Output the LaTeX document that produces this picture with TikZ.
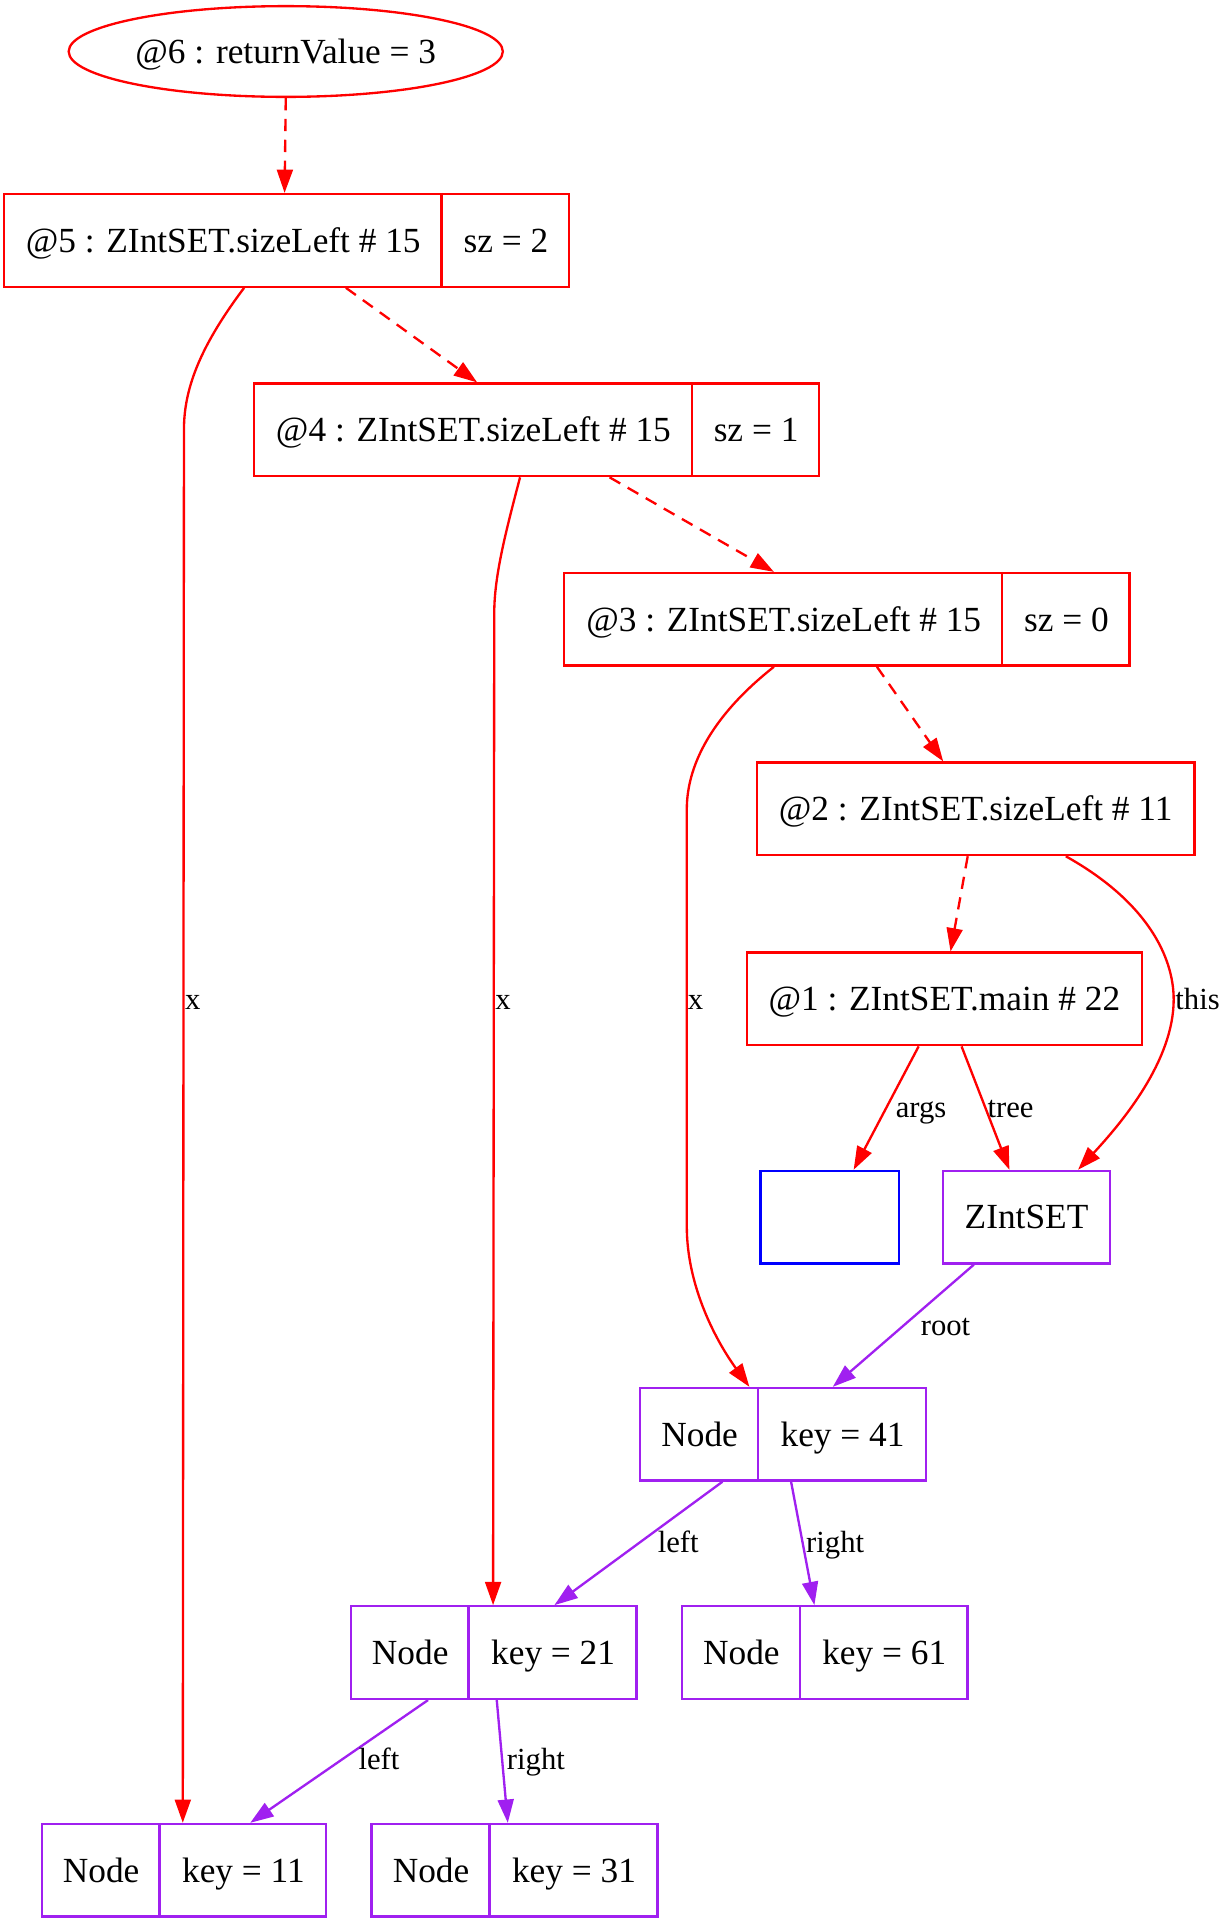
\documentclass[tikz,border=0pt]{standalone}
\usepackage{fontspec}
\setmainfont{Liberation Serif}
\usetikzlibrary{shapes.geometric,arrows.meta,calc}
\definecolor{gvred}{RGB}{255,0,0}
\definecolor{gvpurple}{RGB}{160,32,240}
\definecolor{gvblue}{RGB}{0,0,255}
\tikzset{
  frame/.style={draw, line width=0.95pt, inner sep=0pt, minimum height=37.75pt},
  redbox/.style={frame, draw=gvred},
  purbox/.style={frame, draw=gvpurple},
  bluebox/.style={frame, draw=gvblue},
  divider/.style={line width=0.95pt},
  txt/.style={inner sep=0pt, yshift=-2.5pt, text height=0.68em, text depth=0.22em, font=\fontsize{14.4}{16}\selectfont},
  elabel/.style={inner sep=0pt, yshift=-1.8pt, text height=0.68em, text depth=0.22em, font=\fontsize{12.5}{14}\selectfont},
  conn/.style={line width=0.95pt, -{Triangle[length=9.5pt,width=6.5pt]}},
  redconn/.style={conn, draw=gvred},
  callconn/.style={redconn, dash pattern=on 5pt off 3.5pt},
  purconn/.style={conn, draw=gvpurple},
}
\begin{document}
\begin{tikzpicture}[x=0.5pt,y=-0.5pt]
\useasboundingbox (0,0) rectangle (998.8,1568);
% ellipse
\node[ellipse, draw=gvred, line width=0.95pt, minimum width=177pt, minimum height=37pt, inner sep=0pt] (n6) at (233,42) {};
\node[txt] (t6) at (233,42) {@6 : returnValue = 3};
% @5
\node[redbox, minimum width=230.5pt] (n5) at (233.5,196) {};
\draw[gvred, divider] ($(n5.north west)+(358,0)$) -- ($(n5.south west)+(358,0)$);
\node[txt] (t5a) at (182,196) {@5 : ZIntSET.sizeLeft \# 15};
\node[txt] (t5b) at (412.5,196) {sz = 2};
% @4
\node[redbox, minimum width=230.5pt] (n4) at (437.5,350.5) {};
\draw[gvred, divider] ($(n4.north west)+(358,0)$) -- ($(n4.south west)+(358,0)$);
\node[txt] (t4a) at (386,350.5) {@4 : ZIntSET.sizeLeft \# 15};
\node[txt] (t4b) at (616.5,350.5) {sz = 1};
% @3
\node[redbox, minimum width=230.5pt] (n3) at (690.5,505) {};
\draw[gvred, divider] ($(n3.north west)+(358,0)$) -- ($(n3.south west)+(358,0)$);
\node[txt] (t3a) at (639,505) {@3 : ZIntSET.sizeLeft \# 15};
\node[txt] (t3b) at (869.5,505) {sz = 0};
% @2
\node[redbox, minimum width=178.5pt] (n2) at (795.5,659.5) {};
\node[txt] (t2) at (795.5,659.5) {@2 : ZIntSET.sizeLeft \# 11};
% @1
\node[redbox, minimum width=161pt] (n1) at (770,814.5) {};
\node[txt] (t1) at (770,814.5) {@1 : ZIntSET.main \# 22};
% empty and ZIntSET
\node[bluebox, minimum width=56.5pt] (ne) at (676.5,992.5) {};
\node[purbox, minimum width=68pt] (ns) at (837,992.5) {};
\node[txt] (ts) at (837,992.5) {ZIntSET};
% Node 41
\node[purbox, minimum width=116.5pt] (n41) at (638.5,1169.5) {};
\draw[gvpurple, divider] ($(n41.north west)+(97,0)$) -- ($(n41.south west)+(97,0)$);
\node[txt] (t41a) at (570.5,1169.5) {Node};
\node[txt] (t41b) at (687,1169.5) {key = 41};
% Node 21
\node[purbox, minimum width=116.5pt] (n21) at (402.5,1347.5) {};
\draw[gvpurple, divider] ($(n21.north west)+(97,0)$) -- ($(n21.south west)+(97,0)$);
\node[txt] (t21a) at (334.5,1347.5) {Node};
\node[txt] (t21b) at (451,1347.5) {key = 21};
% Node 61
\node[purbox, minimum width=116.5pt] (n61) at (672.5,1347.5) {};
\draw[gvpurple, divider] ($(n61.north west)+(97,0)$) -- ($(n61.south west)+(97,0)$);
\node[txt] (t61a) at (604.5,1347.5) {Node};
\node[txt] (t61b) at (721,1347.5) {key = 61};
% Node 11
\node[purbox, minimum width=116pt] (n11) at (150,1525) {};
\draw[gvpurple, divider] ($(n11.north west)+(97,0)$) -- ($(n11.south west)+(97,0)$);
\node[txt] (t11a) at (82.5,1525) {Node};
\node[txt] (t11b) at (198.5,1525) {key = 11};
% Node 31
\node[purbox, minimum width=116.5pt] (n31) at (419.5,1525) {};
\draw[gvpurple, divider] ($(n31.north west)+(97,0)$) -- ($(n31.south west)+(97,0)$);
\node[txt] (t31a) at (351.5,1525) {Node};
\node[txt] (t31b) at (468,1525) {key = 31};

% call chain (dashed)
\draw[callconn] (n6.south) -- ($(n5.north west)+(230,0)$);
\draw[callconn] ($(n5.south west)+(280,0)$) -- ($(n4.north west)+(183,0)$);
\draw[callconn] ($(n4.south west)+(291,0)$) -- ($(n3.north west)+(172,0)$);
\draw[callconn] ($(n3.south west)+(256,0)$) -- ($(n2.north west)+(153,0)$);
\draw[callconn] ($(n2.south west)+(173,0)$) -- ($(n1.north west)+(167,0)$);

% x edges
\draw[redconn] ($(n5.south west)+(197,0)$) .. controls (165,280) and (150,315) .. (150,350) -- ($(n11.north west)+(116,0)$);
\node[elabel, anchor=west] (lx5) at (150.5,815) {x};
\draw[redconn] ($(n4.south west)+(218,0)$) .. controls (412,435) and (403,470) .. (403,500) -- ($(n21.north west)+(117,0)$);
\node[elabel, anchor=west] (lx4) at (403.5,815) {x};
\draw[redconn] ($(n3.south west)+(172,0)$) .. controls (585,580) and (560,620) .. (560,660) -- (560,1000) .. controls (560,1050) and (585,1095) .. ($(n41.north west)+(90,0)$);
\node[elabel, anchor=west] (lx3) at (560.5,815) {x};

% this
\draw[redconn] ($(n2.south west)+(253,0)$) .. controls (935,735) and (957,780) .. (957,815) .. controls (957,865) and (915,915) .. ($(ns.north west)+(111,0)$);
\node[elabel, anchor=west] (lthis) at (958,815) {this};

% args, tree
\draw[redconn] ($(n1.south west)+(141,0)$) -- ($(ne.north west)+(77,0)$);
\node[elabel] (largs) at (751,903) {args};
\draw[redconn] ($(n1.south west)+(176,0)$) -- ($(ns.north west)+(55,0)$);
\node[elabel] (ltree) at (824,903) {tree};

% tree edges
\draw[purconn] ($(ns.south west)+(26,0)$) -- ($(n41.north west)+(158,0)$);
\node[elabel] (lroot) at (771,1081) {root};
\draw[purconn] ($(n41.south west)+(68,0)$) -- ($(n21.north west)+(167,0)$);
\node[elabel] (ll41) at (553,1258) {left};
\draw[purconn] ($(n41.south west)+(124,0)$) -- ($(n61.north west)+(109,0)$);
\node[elabel] (lr41) at (681,1258) {right};
\draw[purconn] ($(n21.south west)+(64,0)$) -- ($(n11.north west)+(171,0)$);
\node[elabel] (ll21) at (309,1435) {left};
\draw[purconn] ($(n21.south west)+(120,0)$) -- ($(n31.north west)+(112,0)$);
\node[elabel] (lr21) at (437,1435) {right};
\end{tikzpicture}
\end{document}
